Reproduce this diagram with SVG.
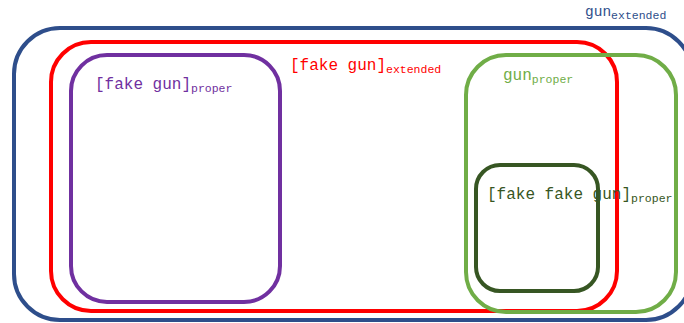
<svg xmlns="http://www.w3.org/2000/svg" width="684" height="323" viewBox="0 0 684 323">
<style>
rect{fill:none}
text{font-family:"Liberation Mono","Courier New",monospace;font-size:16px}
.sub{font-size:11.5px}
</style>
<rect width="684" height="323" fill="#fff" style="fill:#fff"/>
<g id="gun-extended">
<rect x="14" y="28" width="678" height="292" rx="46" stroke="#2E4E8B" stroke-width="4"/>
<text x="585" y="16" fill="#2E4E8B" style="font-size:14.5px">gun<tspan class="sub" dy="3">extended</tspan></text>
</g>
<g id="fake-gun-extended">
<rect x="51" y="42" width="566" height="269" rx="40" stroke="#FF0000" stroke-width="4"/>
<text x="290" y="70" fill="#FF0000">[fake gun]<tspan class="sub" dy="3">extended</tspan></text>
</g>
<g id="fake-gun-proper">
<rect x="71" y="55" width="209" height="247" rx="36" stroke="#7030A0" stroke-width="4"/>
<text x="95" y="89" fill="#7030A0">[fake gun]<tspan class="sub" dy="3">proper</tspan></text>
</g>
<g id="gun-proper">
<rect x="466" y="55" width="210" height="257" rx="40" stroke="#70AD47" stroke-width="4"/>
<text x="503" y="80" fill="#70AD47">gun<tspan class="sub" dy="3">proper</tspan></text>
</g>
<g id="fake-fake-gun-proper">
<rect x="476" y="165" width="122" height="126" rx="24" stroke="#375623" stroke-width="4"/>
<text x="487" y="199" fill="#375623">[fake fake gun]<tspan class="sub" dy="3">proper</tspan></text>
</g>
<g id="connectors"/>
</svg>
